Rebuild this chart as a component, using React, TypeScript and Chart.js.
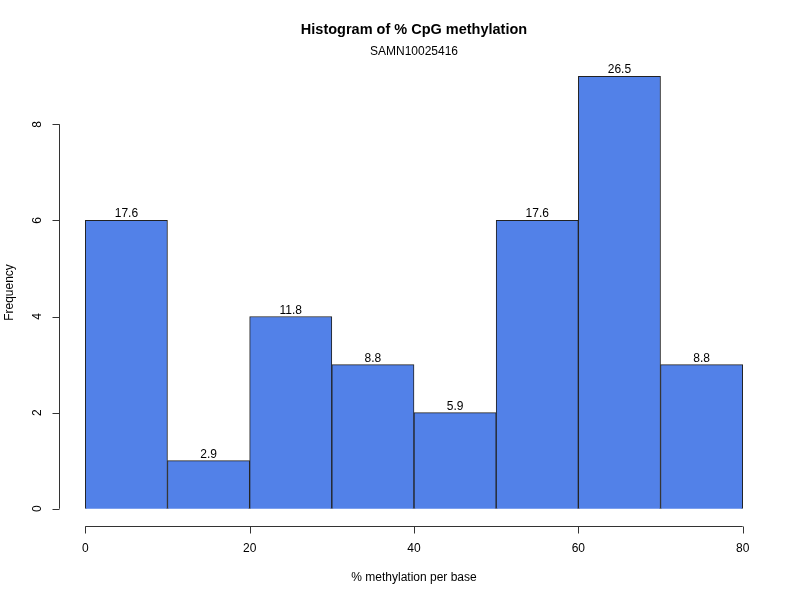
import React, { useEffect, useRef } from "react";
import { Chart, registerables } from "chart.js";

Chart.register(...registerables);

const binMids = [5, 15, 25, 35, 45, 55, 65, 75];
const counts = [6, 1, 4, 3, 2, 6, 9, 3];
const pctLabels = ["17.6", "2.9", "11.8", "8.8", "5.9", "17.6", "26.5", "8.8"];
const xTicks = [0, 20, 40, 60, 80];
const yTicks = [0, 2, 4, 6, 8];
const titleText = "Histogram of % CpG methylation";
const subtitleText = "SAMN10025416";
const xTitle = "% methylation per base";
const yTitle = "Frequency";

const FONT = "'Liberation Sans', Arial, Helvetica, sans-serif";

const rAxesPlugin = {
  id: "rAxes",
  afterDraw(chart: any) {
    const { ctx, chartArea, scales } = chart;
    const xs = scales.x;
    const ys = scales.y;
    ctx.save();
    ctx.strokeStyle = "#333";
    ctx.fillStyle = "#000";
    ctx.lineWidth = 1;
    // x axis
    const ay = Math.round(chartArea.bottom) + 0.5;
    ctx.beginPath();
    ctx.moveTo(xs.getPixelForValue(xTicks[0]), ay);
    ctx.lineTo(xs.getPixelForValue(xTicks[xTicks.length - 1]), ay);
    xTicks.forEach((t) => {
      const px = Math.round(xs.getPixelForValue(t)) + 0.5;
      ctx.moveTo(px, ay);
      ctx.lineTo(px, ay + 7);
    });
    ctx.stroke();
    ctx.font = `12px ${FONT}`;
    ctx.textAlign = "center";
    ctx.textBaseline = "middle";
    xTicks.forEach((t) => {
      ctx.fillText(String(t), xs.getPixelForValue(t), ay + 22);
    });
    // y axis
    const ax = Math.round(chartArea.left) + 0.5;
    ctx.beginPath();
    ctx.moveTo(ax, ys.getPixelForValue(yTicks[0]));
    ctx.lineTo(ax, ys.getPixelForValue(yTicks[yTicks.length - 1]));
    yTicks.forEach((t) => {
      const py = Math.round(ys.getPixelForValue(t)) + 0.5;
      ctx.moveTo(ax, py);
      ctx.lineTo(ax - 7, py);
    });
    ctx.stroke();
    yTicks.forEach((t) => {
      ctx.save();
      ctx.translate(ax - 22, ys.getPixelForValue(t));
      ctx.rotate(-Math.PI / 2);
      ctx.fillText(String(t), 0, 0);
      ctx.restore();
    });
    // bar labels
    ctx.textBaseline = "alphabetic";
    binMids.forEach((m, i) => {
      ctx.fillText(pctLabels[i], xs.getPixelForValue(m), ys.getPixelForValue(counts[i]) - 3);
    });
    // titles
    const cx = (chartArea.left + chartArea.right) / 2;
    ctx.textBaseline = "middle";
    ctx.font = `bold 14.5px ${FONT}`;
    ctx.fillText(titleText, cx, 30);
    ctx.font = `12px ${FONT}`;
    ctx.fillText(subtitleText, cx, 52);
    ctx.fillText(xTitle, cx, 578);
    ctx.save();
    ctx.translate(10, (chartArea.top + chartArea.bottom) / 2);
    ctx.rotate(-Math.PI / 2);
    ctx.fillText(yTitle, 0, 0);
    ctx.restore();
    ctx.restore();
  },
};

export default function App() {
  const ref = useRef<HTMLCanvasElement | null>(null);
  useEffect(() => {
    if (!ref.current) return;
    const chart = new Chart(ref.current, {
      type: "bar",
      data: {
        datasets: [
          {
            data: binMids.map((m, i) => ({ x: m, y: counts[i] })),
            backgroundColor: "#5281E8",
            borderColor: "#222",
            borderWidth: 1,
            barPercentage: 1,
            categoryPercentage: 1,
          } as any,
        ],
      },
      options: {
        animation: false,
        responsive: false,
        maintainAspectRatio: false,
        layout: { padding: { left: 59, right: 31, top: 59, bottom: 74 } },
        plugins: { legend: { display: false }, tooltip: { enabled: false } },
        scales: {
          x: { type: "linear", min: -3.2, max: 83.2, display: false, offset: false },
          y: { type: "linear", min: -0.36, max: 9.36, display: false },
        },
      },
      plugins: [rAxesPlugin],
    });
    return () => chart.destroy();
  }, []);
  return (
    <div style={{ position: "fixed", left: 0, top: 0, width: 800, height: 600, background: "#fff" }}>
      <canvas ref={ref} width={800} height={600} style={{ width: 800, height: 600 }} />
    </div>
  );
}
